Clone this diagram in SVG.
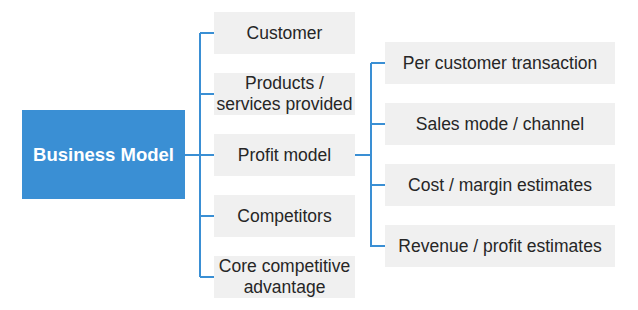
<svg xmlns="http://www.w3.org/2000/svg" width="638" height="310" viewBox="0 0 638 310">
<style>
.box{fill:#f0f0f0}
.t{font-family:"Liberation Sans",Arial,sans-serif;font-size:17.5px;fill:#262626;text-anchor:middle}
.main{font-family:"Liberation Sans",Arial,sans-serif;font-size:18.5px;font-weight:bold;fill:#fff;text-anchor:middle}
.c{stroke:#3a8fd4;stroke-width:2;fill:none}
</style>
<rect width="638" height="310" fill="#fff"/>
<g id="connectors">
<path class="c" d="M185 155H200M200 33V277M200 33H214M200 94H214M200 155H214M200 216H214M200 277H214"/>
<path class="c" d="M355 155H371M371 63V247M371 63H385M371 124H385M371 185H385M371 246H385"/>
</g>
<g id="business-model"><rect x="22" y="110" width="163" height="89" fill="#3a8fd4"/><text class="main" x="103.5" y="161">Business Model</text></g>
<g id="customer"><rect class="box" x="214" y="12" width="141" height="42"/><text class="t" x="284.5" y="39">Customer</text></g>
<g id="products"><rect class="box" x="214" y="73" width="141" height="42"/><text class="t" x="284.5" y="89">Products /</text><text class="t" x="284.5" y="110">services provided</text></g>
<g id="profit-model"><rect class="box" x="214" y="134" width="141" height="42"/><text class="t" x="284.5" y="161">Profit model</text></g>
<g id="competitors"><rect class="box" x="214" y="195" width="141" height="42"/><text class="t" x="284.5" y="222">Competitors</text></g>
<g id="core"><rect class="box" x="214" y="256" width="141" height="42"/><text class="t" x="284.5" y="272">Core competitive</text><text class="t" x="284.5" y="293">advantage</text></g>
<g id="per-customer"><rect class="box" x="385" y="42" width="230" height="42"/><text class="t" x="500" y="69">Per customer transaction</text></g>
<g id="sales-mode"><rect class="box" x="385" y="103" width="230" height="42"/><text class="t" x="500" y="130">Sales mode / channel</text></g>
<g id="cost"><rect class="box" x="385" y="164" width="230" height="42"/><text class="t" x="500" y="191">Cost / margin estimates</text></g>
<g id="revenue"><rect class="box" x="385" y="225" width="230" height="42"/><text class="t" x="500" y="252">Revenue / profit estimates</text></g>
</svg>
